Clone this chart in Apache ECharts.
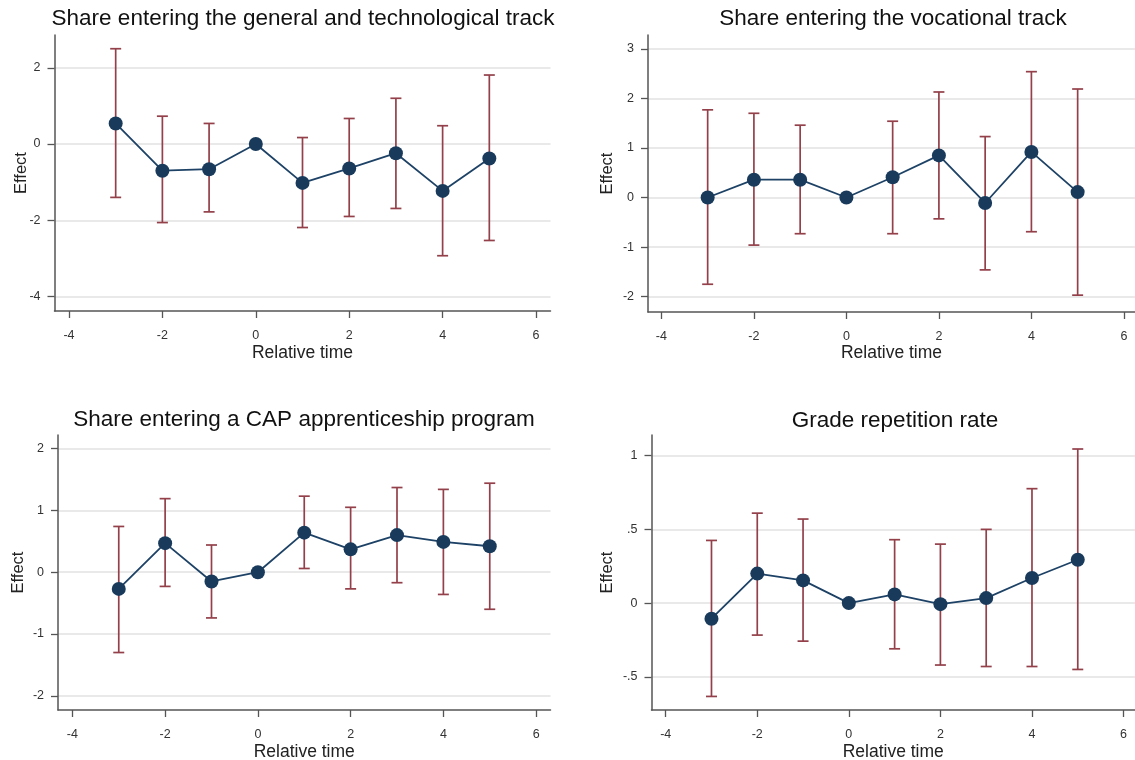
<!DOCTYPE html>
<html>
<head>
<meta charset="utf-8">
<title>Event study estimates</title>
<script src="https://cdn.jsdelivr.net/npm/echarts@6/dist/echarts.min.js"></script>
<style>
  html, body { margin: 0; padding: 0; background: #fff; }
  #chart { width: 1135px; height: 760px; }
</style>
</head>
<body>
<div id="chart"></div>
<script>
// relative time (x) shared by all four panels
var relTime = [-3, -2, -1, 0, 1, 2, 3, 4, 5];
var xTicks = [-4, -2, 0, 2, 4, 6];

// Share entering the general and technological track
var genEffect = [0.54, -0.70, -0.66, 0, -1.02, -0.64, -0.24, -1.23, -0.38];
var genLower = [-1.40, -2.06, -1.78, 0, -2.19, -1.90, -1.69, -2.93, -2.53];
var genUpper = [2.50, 0.73, 0.54, 0, 0.17, 0.67, 1.20, 0.48, 1.81];
var genTicks = [-4, -2, 0, 2];

// Share entering the vocational track
var vocEffect = [0.00, 0.36, 0.36, 0, 0.41, 0.85, -0.11, 0.92, 0.11];
var vocLower = [-1.75, -0.96, -0.73, 0, -0.73, -0.43, -1.46, -0.69, -1.97];
var vocUpper = [1.77, 1.70, 1.46, 0, 1.54, 2.13, 1.23, 2.54, 2.19];
var vocTicks = [-2, -1, 0, 1, 2, 3];

// Share entering a CAP apprenticeship program
var capEffect = [-0.27, 0.47, -0.15, 0, 0.64, 0.37, 0.60, 0.49, 0.42];
var capLower = [-1.30, -0.23, -0.74, 0, 0.06, -0.27, -0.17, -0.36, -0.60];
var capUpper = [0.74, 1.19, 0.44, 0, 1.23, 1.05, 1.37, 1.34, 1.44];
var capTicks = [-2, -1, 0, 1, 2];

// Grade repetition rate
var repEffect = [-0.106, 0.20, 0.154, 0, 0.059, -0.007, 0.034, 0.17, 0.294];
var repLower = [-0.633, -0.217, -0.258, 0, -0.31, -0.42, -0.43, -0.43, -0.45];
var repUpper = [0.425, 0.61, 0.57, 0, 0.43, 0.40, 0.50, 0.776, 1.045];
var repTicks = [-0.5, 0, 0.5, 1];

var font = "'Liberation Sans', Arial, Helvetica, sans-serif";
var navy = "#1d4266";
var maroon = "#93404a";
var axisGray = "#555";
var gridGray = "#e2e2e2";

// layout of the four panels (pixels / axis ranges)
var panels = [
  { title: "Share entering the general and technological track", tx: 303, ty: 19,
    eff: genEffect, lo: genLower, hi: genUpper, ticks: genTicks,
    grid: { left: 54.5, top: 35, width: 496, height: 276 },
    xmin: -4.31, xmax: 6.31, ymin: -4.38, ymax: 2.86, yGap: 25, xGap: 33 },
  { title: "Share entering the vocational track", tx: 893, ty: 19,
    eff: vocEffect, lo: vocLower, hi: vocUpper, ticks: vocTicks,
    grid: { left: 648, top: 35, width: 487, height: 277 },
    xmin: -4.29, xmax: 6.24, ymin: -2.31, ymax: 3.28, yGap: 32, xGap: 32 },
  { title: "Share entering a CAP apprenticeship program", tx: 304, ty: 420,
    eff: capEffect, lo: capLower, hi: capUpper, ticks: capTicks,
    grid: { left: 58, top: 435, width: 492.5, height: 275 },
    xmin: -4.31, xmax: 6.31, ymin: -2.23, ymax: 2.22, yGap: 31, xGap: 33 },
  { title: "Grade repetition rate", tx: 895, ty: 421,
    eff: repEffect, lo: repLower, hi: repUpper, ticks: repTicks,
    grid: { left: 651.5, top: 435, width: 483.5, height: 275 },
    xmin: -4.31, xmax: 6.25, ymin: -0.725, ymax: 1.14, yGap: 36, xGap: 33 }
];

function stataNum(v) {
  // Stata style: .5 and -.5 without leading zero
  return String(v).replace(/^(-?)0\./, "$1.");
}

function errorBar(params, api) {
  var x = api.value(0);
  var top = api.coord([x, api.value(2)]);
  var bot = api.coord([x, api.value(1)]);
  var half = 5.5;
  var style = { stroke: maroon, lineWidth: 1.7 };
  return {
    type: "group",
    children: [
      { type: "line", shape: { x1: top[0], y1: top[1], x2: bot[0], y2: bot[1] }, style: style },
      { type: "line", shape: { x1: top[0] - half, y1: top[1], x2: top[0] + half, y2: top[1] }, style: style },
      { type: "line", shape: { x1: bot[0] - half, y1: bot[1], x2: bot[0] + half, y2: bot[1] }, style: style }
    ]
  };
}

var grids = [], xAxes = [], yAxes = [], series = [], graphics = [];

panels.forEach(function (p, i) {
  var g = Object.assign({ outerBoundsMode: "none", containLabel: false }, p.grid);
  grids.push(g);
  xAxes.push({
    type: "value", gridIndex: i, min: p.xmin, max: p.xmax,
    name: "Relative time", nameLocation: "middle", nameGap: p.xGap, nameMoveOverlap: false,
    nameTextStyle: { fontFamily: font, fontSize: 17.5, color: "#222" },
    axisLine: { show: true, onZero: false, lineStyle: { color: axisGray, width: 1.5 } },
    axisTick: { show: true, length: 7, customValues: xTicks, lineStyle: { color: axisGray, width: 1.3 } },
    axisLabel: { customValues: xTicks, margin: 18, fontFamily: font, fontSize: 12.5, color: "#333" },
    splitLine: { show: false }
  });
  yAxes.push({
    type: "value", gridIndex: i, min: p.ymin, max: p.ymax,
    name: "Effect", nameLocation: "middle", nameGap: p.yGap, nameMoveOverlap: false,
    nameTextStyle: { fontFamily: font, fontSize: 16.5, color: "#222" },
    axisLine: { show: true, onZero: false, lineStyle: { color: axisGray, width: 1.5 } },
    axisTick: { show: true, length: 7, customValues: p.ticks, lineStyle: { color: axisGray, width: 1.3 } },
    axisLabel: { customValues: p.ticks, margin: 14, fontFamily: font, fontSize: 12.5, color: "#333",
      formatter: stataNum },
    splitLine: { show: true, lineStyle: { color: gridGray, width: 1.5 } }
  });
  series.push({
    type: "custom", xAxisIndex: i, yAxisIndex: i, z: 2,
    renderItem: errorBar,
    encode: { x: 0, y: [1, 2] },
    data: relTime.map(function (t, k) { return [t, p.lo[k], p.hi[k]]; })
  });
  series.push({
    type: "line", xAxisIndex: i, yAxisIndex: i, z: 3,
    symbol: "circle", symbolSize: 14,
    lineStyle: { color: navy, width: 1.8 },
    itemStyle: { color: "#193a5b" },
    data: relTime.map(function (t, k) { return [t, p.eff[k]]; })
  });
  graphics.push({
    type: "text", x: p.tx, y: p.ty,
    style: { text: p.title, fontFamily: font, fontSize: 22.5, fill: "#111",
      align: "center", verticalAlign: "middle" }
  });
});

var chart = echarts.init(document.getElementById("chart"));
chart.setOption({
  backgroundColor: "#fff",
  animation: false,
  grid: grids,
  xAxis: xAxes,
  yAxis: yAxes,
  series: series,
  graphic: graphics
});
window.addEventListener("resize", function () {
  chart.resize();
});
</script>
</body>
</html>
